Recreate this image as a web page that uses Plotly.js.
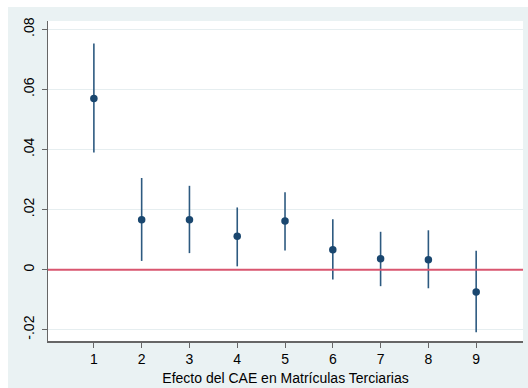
<!DOCTYPE html>
<html>
<head>
<meta charset="utf-8">
<script src="https://cdn.plot.ly/plotly-3.0.1.min.js"></script>
<style>html,body{margin:0;padding:0;background:#fff;}#chart{width:528px;height:388px;}</style>
</head>
<body>
<div id="chart"></div>
<script>
const categories = [1, 2, 3, 4, 5, 6, 7, 8, 9];
const estimates = [0.0570, 0.0166, 0.0166, 0.0111, 0.0162, 0.0066, 0.0036, 0.0033, -0.0074];
const ciUpper = [0.0753, 0.0305, 0.0279, 0.0207, 0.0258, 0.0168, 0.0126, 0.0131, 0.0063];
const ciLower = [0.0390, 0.0029, 0.0055, 0.0011, 0.0064, -0.0033, -0.0055, -0.0062, -0.0208];
const yTickVals = [-0.02, 0, 0.02, 0.04, 0.06, 0.08];
const yTickText = ["-.02", "0", ".02", ".04", ".06", ".08"];
const xTitle = "Efecto del CAE en Matrículas Terciarias";

const navy = "#1a476f";
const bg = "#eaf2f3";

const trace = {
  x: categories,
  y: estimates,
  type: "scatter",
  mode: "markers",
  marker: {color: navy, size: 7.5, symbol: "circle"},
  error_y: {
    type: "data",
    symmetric: false,
    array: ciUpper.map((u, i) => u - estimates[i]),
    arrayminus: ciLower.map((l, i) => estimates[i] - l),
    color: "#2d5a80",
    thickness: 1.6,
    width: 0
  },
  hoverinfo: "skip",
  showlegend: false
};

const layout = {
  width: 528,
  height: 388,
  margin: {l: 48, r: 5, t: 21, b: 47},
  paper_bgcolor: "#ffffff",
  plot_bgcolor: "#ffffff",
  font: {family: "Liberation Sans, Arial, sans-serif", color: "#000000", size: 14},
  showlegend: false,
  xaxis: {
    range: [0.04, 9.98],
    tickvals: categories,
    ticktext: categories.map(String),
    ticks: "outside",
    ticklen: 5,
    tickcolor: "#666666",
    tickwidth: 1,
    showgrid: false,
    zeroline: false,
    showline: true,
    linecolor: "#666666",
    linewidth: 1.5,
    tickfont: {size: 14},
    title: {text: xTitle, font: {size: 14}, standoff: 7}
  },
  yaxis: {
    range: [-0.02375, 0.08276],
    tickvals: yTickVals,
    ticktext: yTickText,
    tickangle: -90,
    ticks: "outside",
    ticklen: 5,
    tickcolor: "#666666",
    tickwidth: 1,
    showgrid: true,
    gridcolor: "#e6eef0",
    gridwidth: 1,
    zeroline: false,
    showline: true,
    linecolor: "#666666",
    linewidth: 1.5,
    tickfont: {size: 14},
    ticklabelstandoff: 2
  },
  shapes: [
    {type: "rect", xref: "paper", yref: "paper", x0: -0.0842, x1: 1.02, y0: -0.16, y1: 1.04375,
     fillcolor: bg, line: {width: 0}, layer: "below"},
    {type: "rect", xref: "paper", yref: "paper", x0: 0, x1: 1, y0: 0, y1: 1,
     fillcolor: "#ffffff", line: {width: 0}, layer: "below"},
    {type: "line", xref: "paper", yref: "y", x0: 0, x1: 1, y0: 0, y1: 0,
     line: {color: "#d9566f", width: 2}, layer: "above"}
  ]
};

Plotly.newPlot("chart", [trace], layout, {displayModeBar: false, staticPlot: true});
</script>
</body>
</html>
